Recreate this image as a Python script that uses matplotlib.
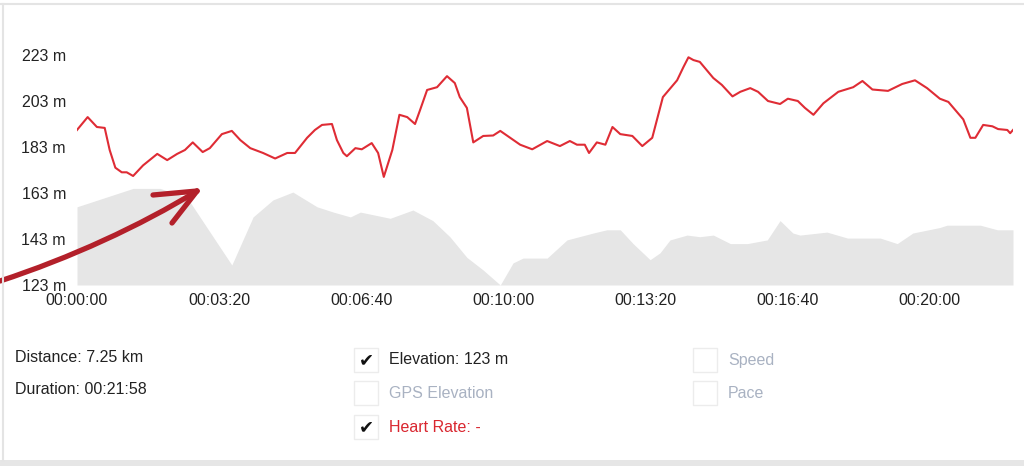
import numpy as np
import matplotlib.pyplot as plt
from matplotlib.patches import Rectangle, Path, PathPatch
from matplotlib.lines import Line2D
from matplotlib.ticker import FuncFormatter

plt.rcParams['font.family'] = ['Liberation Sans', 'DejaVu Sans']

# elevation profile (seconds, metres)
elev_t = [0, 79, 117, 155, 218, 248, 276, 304, 338, 361, 385, 399, 441, 473, 501, 525,
          549, 572, 596, 614, 628, 662, 690, 727, 746, 765, 783, 807, 821, 835, 859, 877,
          896, 920, 944, 972, 990, 1008, 1018, 1056, 1085, 1131, 1155, 1177, 1215, 1225,
          1272, 1296, 1318]
elev_m = [157, 165, 165, 161, 131.7, 152.6, 160, 163.4, 157, 154.7, 152.6, 154.7, 152, 155.6,
          151, 144, 135, 129.5, 123, 132.6, 134.7, 134.7, 142.6, 145.6, 147, 147, 141, 134,
          137, 142.6, 144.7, 144, 144.7, 141, 141, 142.6, 151, 145.6, 144.7, 146, 143.4,
          143.4, 141, 145.6, 148, 149, 149, 147, 147]

# heart rate trace, drawn on the same axis
hr_t = [0, 15, 28, 39, 46, 54, 63, 70, 79, 93, 113, 127, 141, 152, 163, 177, 187, 204, 218,
        230, 244, 262, 279, 296, 307, 324, 335, 345, 359, 366, 375, 380, 392, 401, 415, 424,
        432, 444, 454, 465, 476, 483, 493, 507, 521, 532, 539, 549, 558, 572, 586, 596, 610,
        624, 641, 662, 680, 694, 704, 715, 721, 732, 744, 754, 765, 782, 796, 810, 825, 845,
        854, 861, 868, 877, 896, 908, 923, 934, 948, 959, 973, 990, 1001, 1015, 1025, 1037,
        1051, 1072, 1093, 1106, 1120, 1142, 1162, 1180, 1197, 1215, 1227, 1248, 1258, 1265,
        1276, 1289, 1297, 1310, 1314, 1318]
hr_v = [190.4, 196, 191.7, 191.3, 181.7, 174, 172, 172, 170.4, 175, 180, 177.3, 180, 181.7,
        185, 180.8, 182.5, 188.6, 190, 186, 182.5, 180.4, 178, 180.4, 180.4, 187, 190.4, 192.6,
        193, 186, 180.4, 179, 182.5, 182, 184.7, 180.4, 170, 181.7, 197, 196, 193, 199, 207.8,
        209, 213.8, 210.8, 204.7, 200, 185, 187.8, 188, 190, 187, 184, 182, 185.6, 183.4,
        185.6, 184, 184, 180.4, 185, 184, 191.7, 188.6, 187.8, 183.4, 187, 204.7, 212, 217.8,
        222, 220.8, 220, 213, 210, 205, 207, 208.6, 207, 203, 201.7, 204, 203, 200, 197, 202,
        207, 209, 211.7, 208, 207.4, 210.4, 212, 208.6, 204, 202.6, 195, 187, 187, 192.6, 192,
        190.8, 190.4, 189, 190.4]

y_ticks = [123, 143, 163, 183, 203, 223]
x_ticks = [0, 200, 400, 600, 800, 1000, 1200]
duration = 1318

W, H = 1024, 466


def fx(x):
    return x / W


def fy(y):
    return 1 - y / H


fig = plt.figure(figsize=(W / 100, H / 100), dpi=100)
ax = fig.add_axes([fx(77), fy(285), fx(1013) - fx(77), fy(43.5) - fy(285)])

ax.fill_between(elev_t, elev_m, 123, color='#e6e6e6', lw=0)
ax.plot(hr_t, hr_v, color='#df2c35', lw=1.5, solid_joinstyle='round')

ax.set_xlim(0, duration)
ax.set_ylim(123, 228)
ax.set_yticks(y_ticks)
ax.set_xticks(x_ticks)
ax.yaxis.set_major_formatter(FuncFormatter(lambda v, p: '%d m' % v))
ax.xaxis.set_major_formatter(FuncFormatter(
    lambda v, p: '%02d:%02d:%02d' % (v // 3600, (v % 3600) // 60, v % 60)))
ax.tick_params(length=0, labelsize=11.5, colors='#222222')
ax.tick_params(axis='y', pad=8)
ax.tick_params(axis='x', pad=6)
for s in ax.spines.values():
    s.set_visible(False)
ax.patch.set_alpha(0)

# page frame
fig.add_artist(Line2D([fx(0), fx(1024)], [fy(4), fy(4)], color='#e4e4e4', lw=1.5))
fig.add_artist(Line2D([fx(2.5), fx(2.5)], [fy(4), fy(460)], color='#e4e4e4', lw=1.5))
fig.add_artist(Rectangle((0, 0), 1, fy(460), transform=fig.transFigure,
                         color='#e6e6e6', lw=0))

# hand drawn arrow
verts = [(fx(0), fy(281)), (fx(70), fy(258)), (fx(140), fy(226)), (fx(197), fy(191))]
arrow = PathPatch(Path(verts, [Path.MOVETO, Path.CURVE4, Path.CURVE4, Path.CURVE4]),
                  transform=fig.transFigure, fill=False, ec='#b3202a', lw=3.8,
                  capstyle='round')
fig.add_artist(arrow)
fig.add_artist(Line2D([fx(153), fx(197)], [fy(195), fy(191)], color='#b3202a', lw=3.8,
                      solid_capstyle='round'))
fig.add_artist(Line2D([fx(172), fx(197)], [fy(223), fy(191)], color='#b3202a', lw=3.8,
                      solid_capstyle='round'))

# summary
fig.text(fx(15), fy(358), 'Distance: 7.25 km', fontsize=11.5, color='#222222', va='center')
fig.text(fx(15), fy(389), 'Duration: 00:21:58', fontsize=11.5, color='#222222', va='center')

# series toggles
toggles = [
    (354, 360, True, 'Elevation: 123 m', '#222222'),
    (354, 393, False, 'GPS Elevation', '#a9b2c2'),
    (354, 427, True, 'Heart Rate: -', '#d9262f'),
    (693, 360, False, 'Speed', '#a9b2c2'),
    (693, 393, False, 'Pace', '#a9b2c2'),
]
for bx, by, checked, label, col in toggles:
    fig.add_artist(Rectangle((fx(bx), fy(by + 12)), 24 / W, 24 / H,
                             transform=fig.transFigure, fill=False,
                             ec='#ececec', lw=1))
    if checked:
        fig.text(fx(bx + 12), fy(by), '\u2714', fontsize=13, color='#111111',
                 ha='center', va='center', family='DejaVu Sans')
    fig.text(fx(bx + 35), fy(by), label, fontsize=11.5, color=col, va='center')

fig.savefig('out.png', dpi=100)
